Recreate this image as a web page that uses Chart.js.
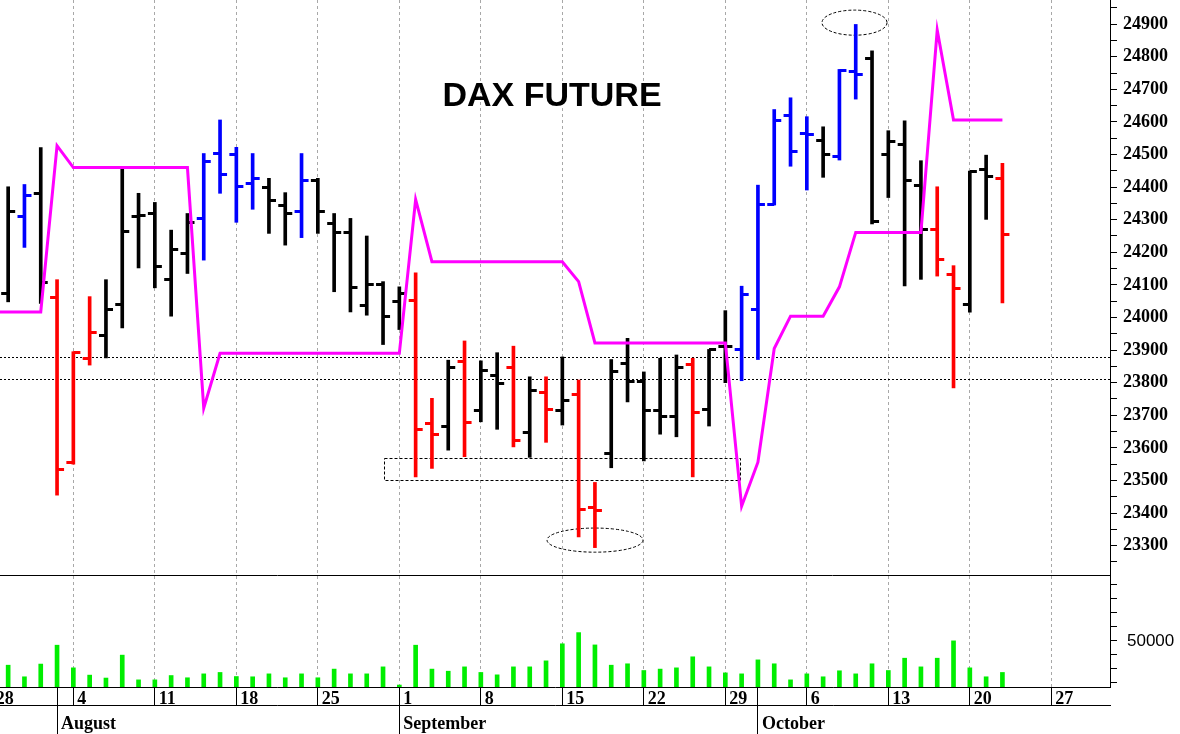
<!DOCTYPE html>
<html>
<head>
<meta charset="utf-8">
<script src="https://cdn.jsdelivr.net/npm/chart.js@4.4.1/dist/chart.umd.min.js"></script>
<style>
  html, body { margin: 0; padding: 0; background: #fff; }
</style>
</head>
<body>
<canvas id="dax" width="1180" height="734"></canvas>
<script>
// trading days counted from Mon 28 Jul (index 0) to Wed 22 Oct (index 62)
const weekTicks = [0, 5, 10, 15, 20, 25, 30, 35, 40, 45, 50, 55, 60, 65];
const weekLabels = ['28', '4', '11', '18', '25', '1', '8', '15', '22', '29', '6', '13', '20', '27'];
const monthTicks = [4, 25, 47];
const monthLabels = ['August', 'September', 'October'];

const priceLabels = [23300, 23400, 23500, 23600, 23700, 23800, 23900, 24000, 24100,
                     24200, 24300, 24400, 24500, 24600, 24700, 24800, 24900];
const volumeTicks = [20000, 30000, 40000, 50000, 60000, 70000, 80000, 90000];
const volumeLabels = [50000];

const opens = [null,
  24074, 24309, 24381, 24060, 23555, 23875, 23946, 24041, 24309, 24320,
  24118, 24197, 24304, 24503, 24501, 24411, 24399, 24345, 24324, 24419,
  24289, 24261, 24038, 24102, 24048, 24051, 23675, 23667, 23866, 23714,
  23823, 23846, 23646, 23769, 23714, 23764, 23416, 23583, 23859, 23805,
  23716, 23695, 23856, 23718, 23912, 23902, 24023, 24348, 24619, 24565,
  24544, 24493, 24754, 24795, 24501, 24532, 24406, 24271, 24133, 24041,
  24455, 24425];
const highs = [null,
  24401, 24408, 24521, 24116, 23895, 24064, 24116, 24455, 24381, 24353,
  24268, 24319, 24503, 24606, 24522, 24503, 24427, 24383, 24503, 24427,
  24319, 24304, 24250, 24110, 24094, 24137, 23752, 23869, 23928, 23867,
  23892, 23912, 23818, 23818, 23879, 23808, 23494, 23871, 23936, 23833,
  23875, 23885, 23875, 23902, 24021, 24096, 24406, 24638, 24674, 24616,
  24585, 24761, 24899, 24818, 24573, 24603, 24481, 24401, 24159, 24449,
  24498, 24473];
const lows = [null,
  24048, 24215, 24043, 23455, 23550, 23854, 23876, 23968, 24152, 24091,
  24004, 24135, 24176, 24381, 24292, 24332, 24258, 24222, 24245, 24258,
  24079, 24017, 24007, 23917, 23963, 23511, 23537, 23593, 23573, 23680,
  23657, 23603, 23571, 23617, 23670, 23327, 23294, 23539, 23741, 23560,
  23642, 23634, 23511, 23667, 23800, 23806, 23871, 24345, 24464, 24391,
  24430, 24483, 24670, 24287, 24368, 24097, 24117, 24127, 23784, 24016,
  24301, 24045];
const closes = [null,
  24326, 24373, 24108, 23534, 23892, 23953, 24026, 24263, 24314, 24156,
  24209, 24290, 24478, 24440, 24403, 24427, 24358, 24319, 24419, 24326,
  24261, 24091, 24102, 24004, 24074, 23655, 23641, 23846, 23677, 23837,
  23798, 23622, 23775, 23718, 23744, 23411, 23409, 23833, 23805, 23716,
  23695, 23846, 23708, 23902, 23910, 24069, 24348, 24603, 24508, 24562,
  24500, 24759, 24744, 24294, 24539, 24419, 24271, 24179, 24089, 24447,
  24434, 24256];
// k = black, r = red, b = blue
const barColors = ['',
  'k', 'b', 'k', 'r', 'r', 'r', 'k', 'k', 'k', 'k',
  'k', 'k', 'b', 'b', 'b', 'b', 'k', 'k', 'b', 'k',
  'k', 'k', 'k', 'k', 'k', 'r', 'r', 'k', 'r', 'k',
  'k', 'r', 'k', 'r', 'k', 'r', 'r', 'k', 'k', 'k',
  'k', 'k', 'r', 'k', 'k', 'b', 'b', 'b', 'b', 'b',
  'k', 'b', 'b', 'k', 'k', 'k', 'k', 'r', 'r', 'k',
  'k', 'r'];
const volumes = [null,
  32600, 24300, 33400, 46900, 30700, 25500, 23400, 39800, 22100, 22100,
  25200, 23600, 26400, 27400, 24500, 24300, 26400, 23600, 26400, 23600,
  29800, 26400, 26400, 31400, 18400, 46900, 29800, 28300, 31400, 27400,
  25700, 31400, 31400, 35700, 47900, 55900, 47100, 32600, 33600, 28800,
  29800, 30700, 38600, 31400, 27100, 26400, 36400, 33600, 22100, 26400,
  24300, 28600, 26400, 33600, 28800, 37600, 31400, 37600, 50000, 30700,
  24300, 27400];
const trendLine = [
  24017, 24017, 24017, 24017, 24527,
  24460, 24460, 24460, 24460, 24460, 24460, 24460, 24460,
  23722,
  23890, 23890, 23890, 23890, 23890, 23890, 23890, 23890, 23890, 23890, 23890, 23890,
  24362,
  24171, 24171, 24171, 24171, 24171, 24171, 24171, 24171, 24171,
  24110,
  23922, 23922, 23922, 23922, 23922, 23922, 23922, 23922, 23922,
  23421, 23556, 23905,
  24004, 24004, 24004,
  24094,
  24261, 24261, 24261, 24261, 24261,
  24882,
  24606, 24606, 24606, 24606];

// hand drawn marks on the original chart (day index / price)
const levelLines = [23880, 23810];
const supportBox = { x0: 24.05, x1: 45.9, top: 23569, bottom: 23501 };
const circles = [
  { x0: 34.06, x1: 39.95, top: 23354, bottom: 23280 },
  { x0: 50.93, x1: 54.92, top: 24943, bottom: 24866 }
];

const colorMap = { k: '#000000', r: '#ff0000', b: '#0000ff' };

function tickImage(color, side) {
  const c = document.createElement('canvas');
  c.width = 16; c.height = 3;
  const g = c.getContext('2d');
  g.fillStyle = color;
  if (side === 'open') g.fillRect(1, 0, 7, 3);
  else g.fillRect(8, 0, 7, 3);
  return c;
}
const openImgs = {}, closeImgs = {};
Object.keys(colorMap).forEach(k => {
  openImgs[k] = tickImage(colorMap[k], 'open');
  closeImgs[k] = tickImage(colorMap[k], 'close');
});

const days = opens.map((v, i) => i).filter(i => opens[i] !== null);
const rangePts = days.map(i => ({ x: i, y: [lows[i], highs[i]] }));
const openPts = days.map(i => ({ x: i, y: opens[i] }));
const closePts = days.map(i => ({ x: i, y: closes[i] }));
const volPts = days.map(i => ({ x: i, y: volumes[i] }));
const trendPts = trendLine.map((v, i) => ({ x: i, y: v }));

const priceTicks = [];
priceLabels.forEach(v => { priceTicks.push(v - 50, v); });
priceTicks.push(24950);

const serifBold = { family: '"Liberation Serif", "Times New Roman", serif', size: 18, weight: 'bold' };

function noPad(scale) {
  scale.paddingLeft = 0; scale.paddingRight = 0;
  scale.paddingTop = 0; scale.paddingBottom = 0;
}

const marksPlugin = {
  id: 'marks',
  beforeDatasetsDraw(chart) {
    const { ctx, chartArea, scales: { x, y } } = chart;
    ctx.save();
    ctx.strokeStyle = '#000';
    ctx.lineWidth = 1;
    ctx.setLineDash([2, 2]);
    levelLines.forEach(p => {
      const py = Math.round(y.getPixelForValue(p)) + 0.5;
      ctx.beginPath();
      ctx.moveTo(chartArea.left, py);
      ctx.lineTo(chartArea.right, py);
      ctx.stroke();
    });
    ctx.setLineDash([3, 2]);
    const bx0 = x.getPixelForValue(supportBox.x0), bx1 = x.getPixelForValue(supportBox.x1);
    const by0 = y.getPixelForValue(supportBox.top), by1 = y.getPixelForValue(supportBox.bottom);
    ctx.strokeRect(Math.round(bx0) + 0.5, Math.round(by0) + 0.5, Math.round(bx1 - bx0), Math.round(by1 - by0));
    circles.forEach(c => {
      const cx0 = x.getPixelForValue(c.x0), cx1 = x.getPixelForValue(c.x1);
      const cy0 = y.getPixelForValue(c.top), cy1 = y.getPixelForValue(c.bottom);
      ctx.beginPath();
      ctx.ellipse((cx0 + cx1) / 2, (cy0 + cy1) / 2, (cx1 - cx0) / 2, (cy1 - cy0) / 2, 0, 0, Math.PI * 2);
      ctx.stroke();
    });
    ctx.restore();
  },
  afterDraw(chart) {
    const { ctx, chartArea, scales: { yv } } = chart;
    ctx.save();
    ctx.strokeStyle = '#000';
    ctx.lineWidth = 1;
    const sy = Math.round(yv.top) + 0.5;
    ctx.beginPath();
    ctx.moveTo(chartArea.left, sy);
    ctx.lineTo(chartArea.right, sy);
    ctx.stroke();
    ctx.fillStyle = '#000';
    ctx.font = 'bold 34px "Liberation Sans", Arial, sans-serif';
    ctx.textAlign = 'center';
    ctx.textBaseline = 'alphabetic';
    ctx.fillText('DAX FUTURE', 552, 106);
    ctx.restore();
  }
};

new Chart(document.getElementById('dax'), {
  type: 'bar',
  data: {
    datasets: [
      {
        type: 'line',
        data: trendPts,
        yAxisID: 'y',
        borderColor: '#ff00ff',
        borderWidth: 3,
        pointRadius: 0,
        tension: 0,
        order: 0
      },
      {
        type: 'line',
        data: openPts,
        yAxisID: 'y',
        showLine: false,
        pointRadius: 3,
        pointStyle: openPts.map(p => openImgs[barColors[p.x]]),
        order: 1
      },
      {
        type: 'line',
        data: closePts,
        yAxisID: 'y',
        showLine: false,
        pointRadius: 3,
        pointStyle: closePts.map(p => closeImgs[barColors[p.x]]),
        order: 1
      },
      {
        type: 'bar',
        data: rangePts,
        yAxisID: 'y',
        barThickness: 3,
        grouped: false,
        backgroundColor: rangePts.map(p => colorMap[barColors[p.x]]),
        borderWidth: 0,
        order: 2
      },
      {
        type: 'bar',
        data: volPts,
        yAxisID: 'yv',
        barThickness: 4,
        grouped: false,
        backgroundColor: '#00ee00',
        borderWidth: 0,
        order: 3
      }
    ]
  },
  options: {
    responsive: false,
    animation: false,
    layout: { padding: 0, autoPadding: false },
    plugins: {
      legend: { display: false },
      tooltip: { enabled: false }
    },
    scales: {
      x: {
        type: 'linear',
        position: 'bottom',
        weight: 1,
        min: 0.5,
        max: 68.6,
        offset: false,
        afterBuildTicks: s => {
          s.ticks = weekTicks.concat([4, 47]).sort((a, b) => a - b).map(v => ({ value: v }));
        },
        afterFit: s => { s.height = 18; noPad(s); },
        grid: {
          offset: false,
          color: c => (c.tick && weekTicks.includes(c.tick.value)) ? '#a8a8a8' : 'rgba(0,0,0,0)',
          lineWidth: 1,
          drawTicks: true,
          tickLength: 18,
          tickColor: '#000',
          tickWidth: 1
        },
        border: { display: true, color: '#000', width: 1, dash: [3, 3] },
        ticks: {
          autoSkip: false,
          maxRotation: 0,
          align: 'start',
          labelOffset: 4,
          padding: -16,
          color: '#000',
          font: serifBold,
          callback: v => {
            const k = weekTicks.indexOf(v);
            return k >= 0 ? weekLabels[k] : '';
          }
        }
      },
      xm: {
        type: 'linear',
        axis: 'x',
        position: 'bottom',
        weight: 2,
        min: 0.5,
        max: 68.6,
        offset: false,
        afterBuildTicks: s => { s.ticks = monthTicks.map(v => ({ value: v })); },
        afterFit: s => { s.height = 29; noPad(s); },
        grid: {
          offset: false,
          drawOnChartArea: false,
          drawTicks: true,
          tickLength: 29,
          tickColor: '#000',
          tickWidth: 1
        },
        border: { display: true, color: '#000', width: 1 },
        ticks: {
          autoSkip: false,
          maxRotation: 0,
          align: 'start',
          labelOffset: 4,
          padding: -20,
          color: '#000',
          font: serifBold,
          callback: v => {
            const k = monthTicks.indexOf(v);
            return k >= 0 ? monthLabels[k] : '';
          }
        }
      },
      y: {
        type: 'linear',
        position: 'right',
        stack: 'panes',
        stackWeight: 575,
        weight: 1,
        min: 23210,
        max: 24974,
        afterBuildTicks: s => { s.ticks = priceTicks.map(v => ({ value: v })); },
        afterFit: s => { s.width = 70; noPad(s); },
        grid: {
          drawOnChartArea: false,
          drawTicks: true,
          tickLength: 7,
          tickColor: '#000'
        },
        border: { display: true, color: '#000', width: 1 },
        ticks: {
          autoSkip: false,
          padding: 6,
          color: '#000',
          font: serifBold,
          callback: v => priceLabels.includes(v) ? String(v) : ''
        }
      },
      yv: {
        type: 'linear',
        position: 'right',
        stack: 'panes',
        stackWeight: 112,
        weight: 2,
        min: 17000,
        max: 97100,
        afterBuildTicks: s => { s.ticks = volumeTicks.map(v => ({ value: v })); },
        afterFit: s => { s.width = 70; noPad(s); },
        grid: {
          drawOnChartArea: false,
          drawTicks: true,
          tickLength: 7,
          tickColor: '#000'
        },
        border: { display: true, color: '#000', width: 1 },
        ticks: {
          autoSkip: false,
          padding: 10,
          color: '#000',
          font: { family: '"Liberation Sans", Arial, sans-serif', size: 17 },
          callback: v => volumeLabels.includes(v) ? String(v) : ''
        }
      }
    }
  },
  plugins: [marksPlugin]
});
</script>
</body>
</html>
